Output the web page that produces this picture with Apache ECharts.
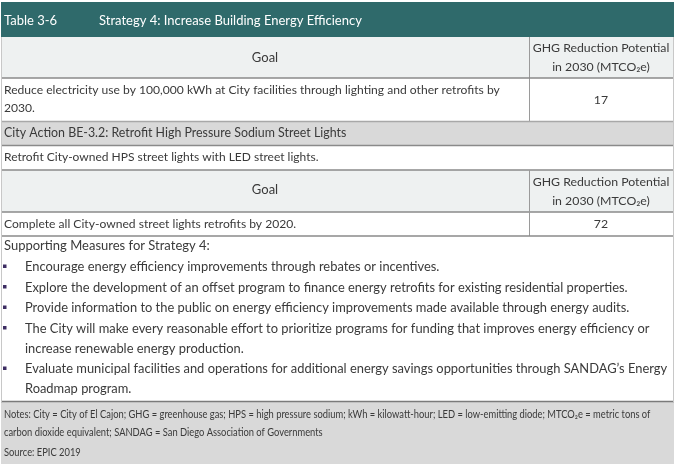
<!DOCTYPE html>
<html><head><meta charset="utf-8">
<script src="https://cdn.jsdelivr.net/npm/echarts@6/dist/echarts.min.js"></script>
<style>html,body{margin:0;padding:0;background:#fff}#c{width:676px;height:466px}</style>
</head><body><div id="c"></div>
<script>
const tableNo = "Table 3-6";
const tableTitle = "Strategy 4: Increase Building Energy Efficiency";
const goalHeader = "Goal";
const ghgHeader = ["GHG Reduction Potential", "in 2030 (MTCO\u2082e)"];
const goal1Lines = ["Reduce electricity use by 100,000 kWh at City facilities through lighting and other retrofits by", "2030."];
const goal1Value = "17";
const actionTitle = "City Action BE-3.2: Retrofit High Pressure Sodium Street Lights";
const actionDesc = "Retrofit City-owned HPS street lights with LED street lights.";
const goal2Lines = ["Complete all City-owned street lights retrofits by 2020."];
const goal2Value = "72";
const measuresTitle = "Supporting Measures for Strategy 4:";
const measures = [
  ["Encourage energy efficiency improvements through rebates or incentives."],
  ["Explore the development of an offset program to finance energy retrofits for existing residential properties."],
  ["Provide information to the public on energy efficiency improvements made available through energy audits."],
  ["The City will make every reasonable effort to prioritize programs for funding that improves energy efficiency or", "increase renewable energy production."],
  ["Evaluate municipal facilities and operations for additional energy savings opportunities through SANDAG\u2019s Energy", "Roadmap program."]
];
const notes = [
  "Notes: City = City of El Cajon; GHG = greenhouse gas; HPS = high pressure sodium; kWh = kilowatt-hour; LED = low-emitting diode; MTCO\u2082e = metric tons of",
  "carbon dioxide equivalent; SANDAG = San Diego Association of Governments"
];
const source = "Source: EPIC 2019";

const FONT = "Lato";
const TXT = "#3a3a3a";
const L = 1, R = 674, DIV = 529;
const els = [];
function rect(x, y, w, h, fill) { els.push({type:'rect', shape:{x, y, width:w, height:h}, style:{fill}, silent:true}); }
function hline(y, color, w) { els.push({type:'line', shape:{x1:L, y1:y, x2:R, y2:y}, style:{stroke:color, lineWidth:w||1}, silent:true}); }
function vline(x, y1, y2, color) { els.push({type:'line', shape:{x1:x, y1, x2:x, y2}, style:{stroke:color, lineWidth:1}, silent:true}); }
function text(t, x, y, opts) {
  opts = opts || {};
  els.push({type:'text', x, y, scaleX:opts.sx||1, style:{text:t, fill:opts.color||TXT, font:(opts.size||13)+'px '+(opts.font||FONT), textAlign:opts.align||'left', textVerticalAlign:'middle'}, silent:true});
}

// header band
rect(L, 2, R - L, 35, '#2f6a6b');
text(tableNo, 4, 21, {color:'#ffffff'});
text(tableTitle, 99, 21, {color:'#ffffff'});

// goal header 1
rect(L, 37, R - L, 41, '#eef1f1');
text(goalHeader, 265, 58, {align:'center'});
text(ghgHeader[0], 601, 48, {align:'center', size:12.3});
text(ghgHeader[1], 601, 67, {align:'center', size:12.3});
// goal row 1
rect(L, 78, R - L, 43, '#ffffff');
text(goal1Lines[0], 4, 90, {size:12.1});
text(goal1Lines[1], 4, 108, {size:12.1});
text(goal1Value, 601, 100, {align:'center', size:12.3});
vline(DIV + 0.5, 37, 121, '#9a9a9a');
hline(78, '#8a8a8a', 1.5);
// action
rect(L, 121, R - L, 25, '#d9d9d9');
hline(121.5, '#a8a8a8', 1.5);
text(actionTitle, 4, 133, {size:12.4});
hline(145.5, '#8a8a8a', 1.5);
text(actionDesc, 4, 157, {size:12});
// goal header 2
rect(L, 170, R - L, 42, '#eef1f1');
hline(170, '#8a8a8a', 1.5);
text(goalHeader, 265, 190, {align:'center'});
text(ghgHeader[0], 601, 182, {align:'center', size:12.3});
text(ghgHeader[1], 601, 201, {align:'center', size:12.3});
hline(212, '#8a8a8a', 1.5);
text(goal2Lines[0], 4, 224, {size:12.1});
text(goal2Value, 601, 224, {align:'center', size:12.3});
vline(DIV + 0.5, 170, 236, '#9a9a9a');
hline(236, '#8a8a8a', 1.5);
// measures
text(measuresTitle, 4, 246);
let y = 267;
measures.forEach(m => {
  rect(3, y - 2.5, 3.5, 3.5, '#3c2d62');
  m.forEach((ln, i) => { text(ln, 25, y + i * 20, {size:12.9}); });
  y += m.length === 1 ? 20.5 : 40.5;
});
// notes
rect(L, 402, R - L, 62, '#d9d9d9');
hline(401.5, '#7a7a7a', 1.5);
text(notes[0], 4, 414, {size:11, sx:0.85});
text(notes[1], 4, 432, {size:11, sx:0.85});
text(source, 4, 452, {size:11, sx:0.85});
// outer border
vline(L + 0.5, 37, 402, '#c8c8c8');
vline(R - 0.5, 37, 402, '#c8c8c8');

const chart = echarts.init(document.getElementById('c'), null, {renderer:'canvas'});
chart.setOption({animation:false, graphic:{elements:els}});
</script></body></html>
